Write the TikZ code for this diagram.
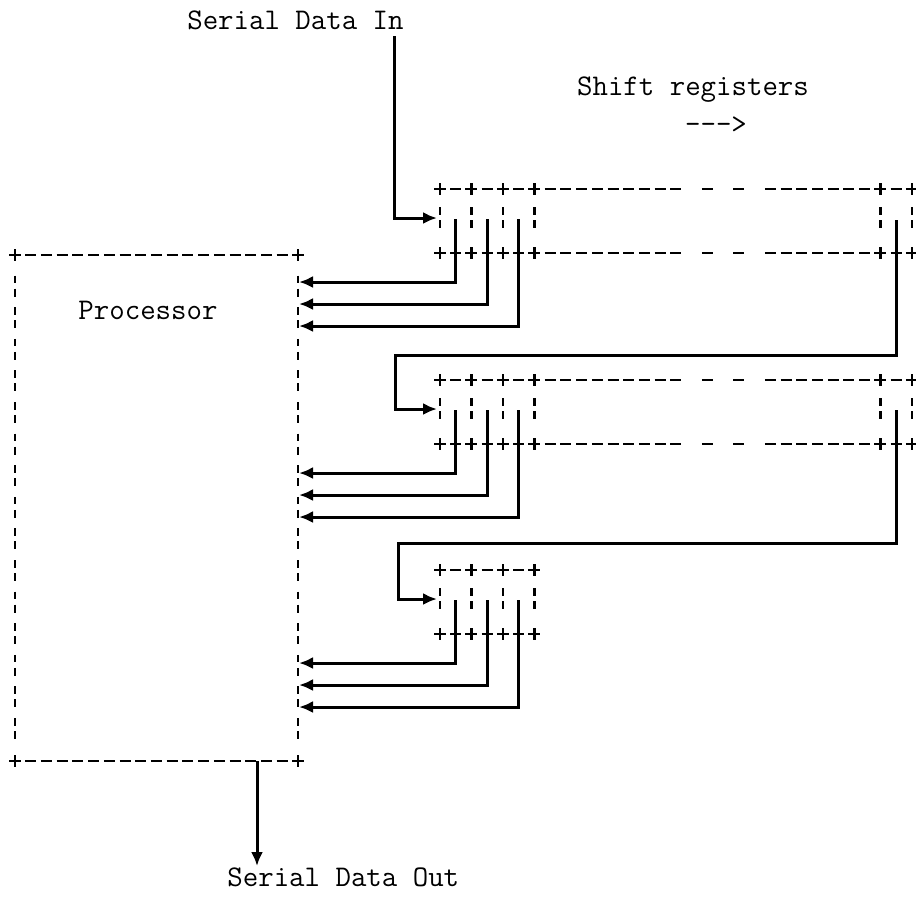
\documentclass[tikz,border=0pt]{standalone}
\usepackage{fontspec}
\usetikzlibrary{arrows.meta}
\tikzset{
  wire/.style={line width=1.5pt, line join=miter},
  arr/.style={wire, -{Latex[length=7pt,width=6pt]}},
  ascii/.style={line width=1.3pt},
  lbl/.style={font=\ttfamily\fontsize{15}{18}\selectfont, inner sep=0pt}
}
\newcommand\plusat[2]{\draw[ascii] (#1-6,#2) -- (#1+6,#2) (#1,#2-6) -- (#1,#2+6);}
\newcommand\dashat[2]{\draw[ascii] (#1-5.5,#2) -- (#1+5.5,#2);}
\newcommand\vbarat[2]{\draw[ascii] (#1,#2-11) -- (#1,#2-3.5) (#1,#2+2) -- (#1,#2+10);}
\begin{document}
\begin{tikzpicture}[x=0.5pt,y=-0.5pt]
\useasboundingbox (0,0) rectangle (916,896);
\def\P{15.73}
% ---------- labels ----------
\node[lbl, anchor=east] (sin) at (404,20) {Serial Data In};
\node[lbl] (sreg) at (693,90) {Shift registers};
\node[lbl] (sarr) at (716,125) {--->};
\node[lbl] (proc) at (148,310) {Processor};
\node[lbl, anchor=west] (sout) at (227,877) {Serial Data Out};
% ---------- processor box (ascii) ----------
\foreach \y in {255,761}{
  \plusat{15}{\y}\plusat{298}{\y}
  \foreach \i in {1,...,17}{\dashat{15+15.72*\i}{\y}}
}
\foreach \j in {1,...,15}{
  \vbarat{15}{255+31.6*\j}\vbarat{298}{255+31.6*\j}
}
\coordinate (pbot) at (257,761);
\coordinate (pout) at (257,866);
\draw[arr] (pbot) -- (pout);
% ---------- shift registers ----------
\foreach \T/\full in {189/1,380/1,570/0}{
  \pgfmathsetmacro\B{\T+64}
  \pgfmathsetmacro\M{\T+29}
  \foreach \y in {\T,\B}{
    \foreach \i in {0,2,4,6}{\plusat{440+\P*\i}{\y}}
    \foreach \i in {1,3,5}{\dashat{440+\P*\i}{\y}}
    \ifnum\full=1
      \foreach \i in {28,30}{\plusat{440+\P*\i}{\y}}
      \foreach \i in {7,...,15,17,19,21,22,...,27,29}{\dashat{440+\P*\i}{\y}}
    \fi
  }
  \foreach \i in {0,2,4,6}{\vbarat{440+\P*\i}{\M}}
  \ifnum\full=1
    \foreach \i in {28,30}{\vbarat{440+\P*\i}{\M}}
  \fi
}
% register taps to processor
\foreach \T in {189,380,570}{
  \foreach \i/\d in {1/93,3/115,5/137}{
    \coordinate (tapA) at ({440+\P*\i},\T+30);
    \coordinate (tapB) at ({440+\P*\i},\T+\d);
    \coordinate (tapC) at (299,\T+\d);
    \draw[arr] (tapA) -- (tapB) -- (tapC);
  }
}
% serial input to register 1
\coordinate (in0) at (394,36);
\coordinate (in1) at (394,218);
\coordinate (r1in) at (437,218);
\draw[arr] (in0) -- (in1) -- (r1in);
% register 1 -> register 2
\coordinate (r1out) at ({440+\P*29},220);
\coordinate (c1a) at ({440+\P*29},355);
\coordinate (c1b) at (395,355);
\coordinate (c1c) at (395,409);
\coordinate (r2in) at (437,409);
\draw[arr] (r1out) -- (c1a) -- (c1b) -- (c1c) -- (r2in);
% register 2 -> register 3
\coordinate (r2out) at ({440+\P*29},410);
\coordinate (c2a) at ({440+\P*29},543);
\coordinate (c2b) at (398,543);
\coordinate (c2c) at (398,599);
\coordinate (r3in) at (437,599);
\draw[arr] (r2out) -- (c2a) -- (c2b) -- (c2c) -- (r3in);
\end{tikzpicture}
\end{document}
